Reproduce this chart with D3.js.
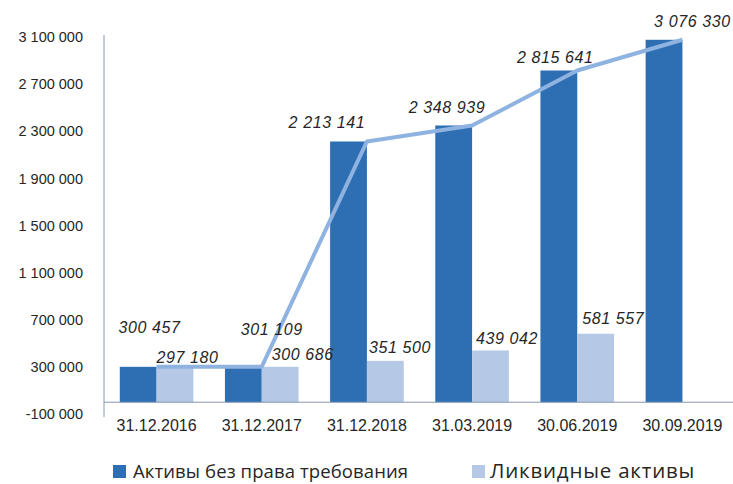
<!DOCTYPE html>
<html>
<head>
<meta charset="utf-8">
<script src="https://cdn.jsdelivr.net/npm/d3@7"></script>
<style>
    body { margin: 0; background: #fff; }
    #chart { width: 733px; height: 484px; }
    text { font-family: "Liberation Sans", Arial, sans-serif; fill: #262626; }
</style>
</head>
<body>
<div id="chart"></div>
<script>
// categories and values
const dates = ["31.12.2016", "31.12.2017", "31.12.2018", "31.03.2019", "30.06.2019", "30.09.2019"];
const encumberedFree = [300457, 301109, 2213141, 2348939, 2815641, 3076330];
const liquid = [297180, 300686, 351500, 439042, 581557, null];
const yTicks = [-100000, 300000, 700000, 1100000, 1500000, 1900000, 2300000, 2700000, 3100000];
const seriesNames = ["Активы без права требования", "Ликвидные активы"];

// hand placed label nudges (relative to group centre / bar top), like in the source
const darkNudge = [[-7, -39], [10, -37], [-40, -19], [-25, -18], [-22, -13], [10, -18]];
const lightNudge = [[31, -10], [41, -12], [33, -13], [35, -12], [36, -15]];

const width = 733, height = 484;
const colDark = "#2e6eb3", colLight = "#b5c9e6", colLine = "#8fb3e0";

const svg = d3.select("#chart").append("svg")
    .attr("width", width)
    .attr("height", height);

const x = d3.scaleBand()
    .domain(dates)
    .range([104, 735])
    .paddingInner(0.3)
    .paddingOuter(0.15);

const sub = d3.scaleBand()
    .domain([0, 1])
    .range([0, x.bandwidth()]);

const y = d3.scaleLinear()
    .domain([-100000, 3100000])
    .range([414, 37]);

const fmt = v => d3.format(",")(v).replace(/,/g, " ").replace("\u2212", "-");

// y axis
const yAxis = d3.axisLeft(y)
    .tickValues(yTicks)
    .tickSize(0)
    .tickPadding(21)
    .tickFormat(fmt);

const gy = svg.append("g")
    .attr("transform", "translate(104,0)")
    .call(yAxis);
gy.select(".domain").attr("stroke", "#8497b0").attr("d", "M0,35V417");
gy.selectAll("text").style("font-size", "14.5px").attr("fill", "#262626");

// bars
const groups = svg.selectAll(".grp")
    .data(dates)
    .enter()
    .append("g")
    .attr("class", "grp")
    .attr("transform", d => `translate(${x(d)},0)`);

groups.append("rect")
    .attr("x", sub(0))
    .attr("width", sub.bandwidth())
    .attr("y", (d, i) => y(encumberedFree[i]))
    .attr("height", (d, i) => y(0) - y(encumberedFree[i]))
    .attr("fill", colDark);

groups.filter((d, i) => liquid[i] != null)
    .append("rect")
    .attr("x", sub(1))
    .attr("width", sub.bandwidth())
    .attr("y", d => y(liquid[dates.indexOf(d)]))
    .attr("height", d => y(0) - y(liquid[dates.indexOf(d)]))
    .attr("fill", colLight);

// x axis at zero
const xAxis = d3.axisBottom(x).tickSize(0).tickPadding(17);
const gx = svg.append("g")
    .attr("transform", `translate(0,${y(0)})`)
    .call(xAxis);
gx.select(".domain").attr("stroke", "#8497b0").attr("d", "M104,0H733");
gx.selectAll("text").style("font-size", "16px").attr("fill", "#262626");

// line over the dark bars
const line = d3.line()
    .x(d => x(d) + x.bandwidth() / 2)
    .y((d, i) => y(encumberedFree[i]));

svg.append("path")
    .datum(dates)
    .attr("fill", "none")
    .attr("stroke", colLine)
    .attr("stroke-width", 4)
    .attr("stroke-linejoin", "round")
    .attr("d", line);

// labels
svg.selectAll(".lbl-dark")
    .data(dates)
    .enter()
    .append("text")
    .attr("class", "lbl-dark")
    .attr("x", (d, i) => x(d) + x.bandwidth() / 2 + darkNudge[i][0])
    .attr("y", (d, i) => y(encumberedFree[i]) + darkNudge[i][1])
    .attr("dy", "0.35em")
    .attr("text-anchor", "middle")
    .style("font-size", "16px")
    .style("font-style", "italic")
    .style("letter-spacing", "0.6px")
    .text((d, i) => fmt(encumberedFree[i]));

svg.selectAll(".lbl-light")
    .data(dates.filter((d, i) => liquid[i] != null))
    .enter()
    .append("text")
    .attr("class", "lbl-light")
    .attr("x", (d, i) => x(d) + x.bandwidth() / 2 + lightNudge[i][0])
    .attr("y", (d, i) => y(liquid[i]) + lightNudge[i][1])
    .attr("dy", "0.35em")
    .attr("text-anchor", "middle")
    .style("font-size", "16px")
    .style("font-style", "italic")
    .style("letter-spacing", "0.6px")
    .text((d, i) => fmt(liquid[i]));

// legend
const legend = svg.selectAll(".leg")
    .data(seriesNames)
    .enter()
    .append("g")
    .attr("class", "leg")
    .attr("transform", (d, i) => `translate(${i === 0 ? 113 : 472},465)`);

legend.append("rect")
    .attr("width", 13)
    .attr("height", 13)
    .attr("fill", (d, i) => i === 0 ? colDark : colLight);

legend.append("text")
    .attr("x", (d, i) => i === 0 ? 20 : 18)
    .attr("y", 13)
    .style("font-family", "'Open Sans', sans-serif")
    .style("font-size", (d, i) => i === 0 ? "18.5px" : "20.5px")
    .style("letter-spacing", (d, i) => i === 0 ? "0.1px" : "0.8px")
    .text(d => d);
</script>
</body>
</html>
